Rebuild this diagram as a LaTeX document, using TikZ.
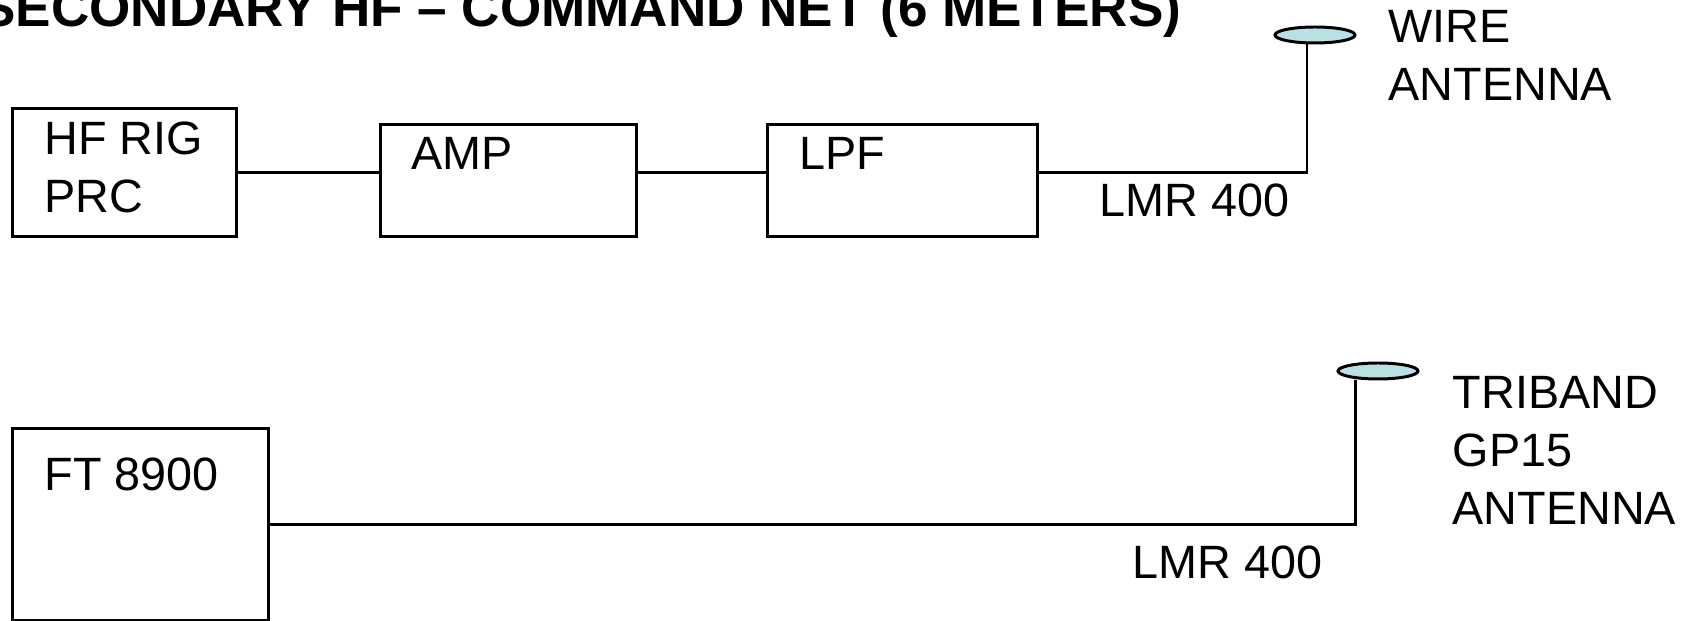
\documentclass[tikz,border=0pt]{standalone}
\usepackage{fontspec}
\setmainfont{Liberation Sans}
\usetikzlibrary{shapes,positioning,calc}
\definecolor{antcyan}{RGB}{187,224,228}

\begin{document}
\begin{tikzpicture}[
    box/.style={draw, line width=0.85pt, inner sep=0pt, anchor=north west},
    txt/.style={inner sep=0pt, anchor=north west, align=left, font=\fontsize{13.3}{16.5}\selectfont},
    ant/.style={ellipse, draw, fill=antcyan, line width=0.85pt, minimum width=0.8cm, minimum height=0.16cm, inner sep=0pt},
    wire/.style={line width=0.85pt}
]
    \useasboundingbox (0,0) rectangle (16.99,-6.21);
    \node[anchor=base east, inner sep=0pt, font=\fontsize{15.1}{18}\selectfont\bfseries] (title) at (11.82,-0.27) {SECONDARY HF -- COMMAND NET (6 METERS)};

    % top chain
    \node[box, minimum width=2.24cm, minimum height=1.28cm] (rig) at (0.11,-1.07) {};
    \node[box, minimum width=2.56cm, minimum height=1.12cm] (amp) at (3.79,-1.23) {};
    \node[box, minimum width=2.70cm, minimum height=1.12cm] (lpf) at (7.66,-1.23) {};
    \node[txt] (rigtext) at (0.44,-1.21) {HF RIG\\PRC};
    \node[txt] (amptext) at (4.11,-1.37) {AMP};
    \node[txt] (lpftext) at (7.99,-1.37) {LPF};
    \node[ant] (wireant) at (13.15,-0.35) {};
    \node[txt] (wiretext) at (13.88,-0.10) {WIRE\\ANTENNA};
    \node[txt] (coaxtop) at (10.99,-1.83) {LMR 400};

    \draw[wire] (rig.east) -- (rig.east -| amp.west);
    \draw[wire] (rig.east -| amp.east) -- (rig.east -| lpf.west);
    \draw[wire] (rig.east -| lpf.east) -| ([xshift=-0.08cm]wireant.south);

    % bottom chain
    \node[box, minimum width=2.56cm, minimum height=1.92cm] (ft) at (0.11,-4.27) {};
    \node[txt] (fttext) at (0.44,-4.57) {FT 8900};
    \node[ant] (gpant) at (13.78,-3.71) {};
    \node[txt] (gptext) at (14.52,-3.76) {TRIBAND\\GP15\\ANTENNA};
    \node[txt] (coaxbot) at (11.32,-5.45) {LMR 400};

    \draw[wire] (ft.east) -| ([xshift=-0.23cm]gpant.south);
\end{tikzpicture}
\end{document}
